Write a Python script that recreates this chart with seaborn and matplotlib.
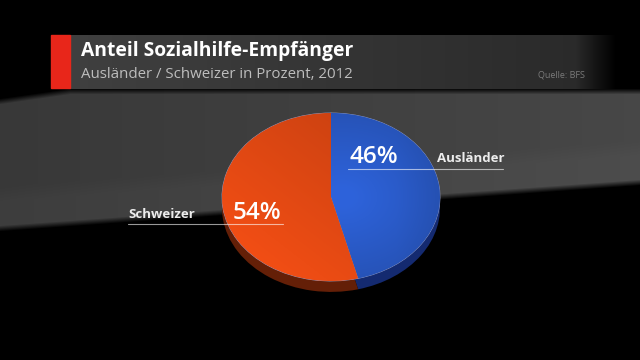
import numpy as np
import matplotlib.pyplot as plt
import seaborn as sns
from matplotlib.patches import Rectangle

# data
categories = ["Ausländer", "Schweizer"]
shares = [46, 54]
pct_labels = ["46%", "54%"]

title = "Anteil Sozialhilfe-Empfänger"
subtitle = "Ausländer / Schweizer in Prozent, 2012"
source = "Quelle: BFS"

top_colors = ["#2c5fd2", "#ec4c14"]
side_colors = ["#142a70", "#641f07"]

sns.set_style("dark")
plt.rcParams['font.family'] = ['Open Sans', 'DejaVu Sans']

fig = plt.figure(figsize=(6.4, 3.6), dpi=100)
fig.patch.set_facecolor("black")

# background: dark stage with grey floor
bg = fig.add_axes([0, 0, 1, 1])
yy, xx = np.mgrid[0:360, 0:640].astype(float)
edge = 231 - 46 * xx / 640
top = np.maximum(98 - 10 * xx / 70, 88)
s = np.clip((edge - yy) / 6, 0, 1) * np.clip((yy - top) / 6, 0, 1)
val = s * (0.22 + 0.06 * xx / 640 + 0.02 * np.clip((yy - (edge - 45)) / 15, 0, 1))
hdr = (xx >= 70) & (yy >= 35) & (yy <= 88)
fade = np.clip((615 - xx) / 40, 0, 1)
val[hdr] = (0.25 - 0.09 * (xx[hdr] - 70) / 545) * fade[hdr]
img = np.dstack([val, val, val])
bg.imshow(img, extent=(0, 640, 360, 0), aspect="auto", interpolation="bilinear")
bg.add_patch(Rectangle((51, 35), 19, 53, color="#e8261a", zorder=3))
bg.set_xlim(0, 640)
bg.set_ylim(360, 0)
bg.axis("off")

bg.text(81, 51, title, color="white", fontsize=13.9, fontweight="bold", va="center")
bg.text(81, 75, subtitle, color="#bdbdbd", fontsize=10.8, va="center")
bg.text(538, 75, source, color="#7a7a7a", fontsize=6.5, va="center")

# pie (tilted: stretched axes, darker copy below as the side)
h = 84 * 2.16
ax = fig.add_axes([222 / 640, 1 - (113 + h) / 360, 218 / 640, h / 360])
ax.pie(shares, colors=side_colors, startangle=90, counterclock=False,
       center=(0, -0.13), wedgeprops=dict(linewidth=0))
wedges, _ = ax.pie(shares, colors=top_colors, startangle=90, counterclock=False,
                   wedgeprops=dict(linewidth=0.6, edgecolor="#8e98c0"))

gy, gx = np.mgrid[1:-1:200j, -1:1:200j]
blue = np.clip(1.02 - 0.18 * np.hypot(gx - 0.1, gy) - 0.1 * np.clip(gx - 0.6, 0, 1), 0, 1)
orange = np.clip(0.9 + 0.12 * (-gy - gx) / 2, 0, 1)
for w, shade, base in zip(wedges, [blue, orange], top_colors):
    rgb = np.array([int(base[i:i + 2], 16) / 255 for i in (1, 3, 5)])
    im = ax.imshow(np.clip(shade[..., None] * rgb * 1.04, 0, 1), extent=(-1, 1, -1, 1),
                   aspect="auto", interpolation="bilinear", zorder=2)
    im.set_clip_path(w)
ax.set_xlim(-1, 1)
ax.set_ylim(-1.16, 1)
ax.set_aspect("auto")
ax.axis("off")

# labels on a transparent overlay
lab = fig.add_axes([0, 0, 1, 1])
lab.set_xlim(0, 640)
lab.set_ylim(360, 0)
lab.axis("off")
lab.patch.set_alpha(0)
lab.text(350, 157, pct_labels[0], color="white", fontsize=17.5, fontweight="semibold", va="center")
lab.text(437, 159, categories[0], color="#ececec", fontsize=9.5, fontweight="bold", va="center")
lab.plot([348, 503], [169, 169], color="white", alpha=0.6, lw=0.8)
lab.text(233, 213, pct_labels[1], color="white", fontsize=17.5, fontweight="semibold", va="center")
lab.text(128, 214, categories[1], color="#ececec", fontsize=9.5, fontweight="bold", va="center")
lab.plot([128, 283], [224, 224], color="white", alpha=0.6, lw=0.8)

fig.savefig("out.png", dpi=100, facecolor="black")
